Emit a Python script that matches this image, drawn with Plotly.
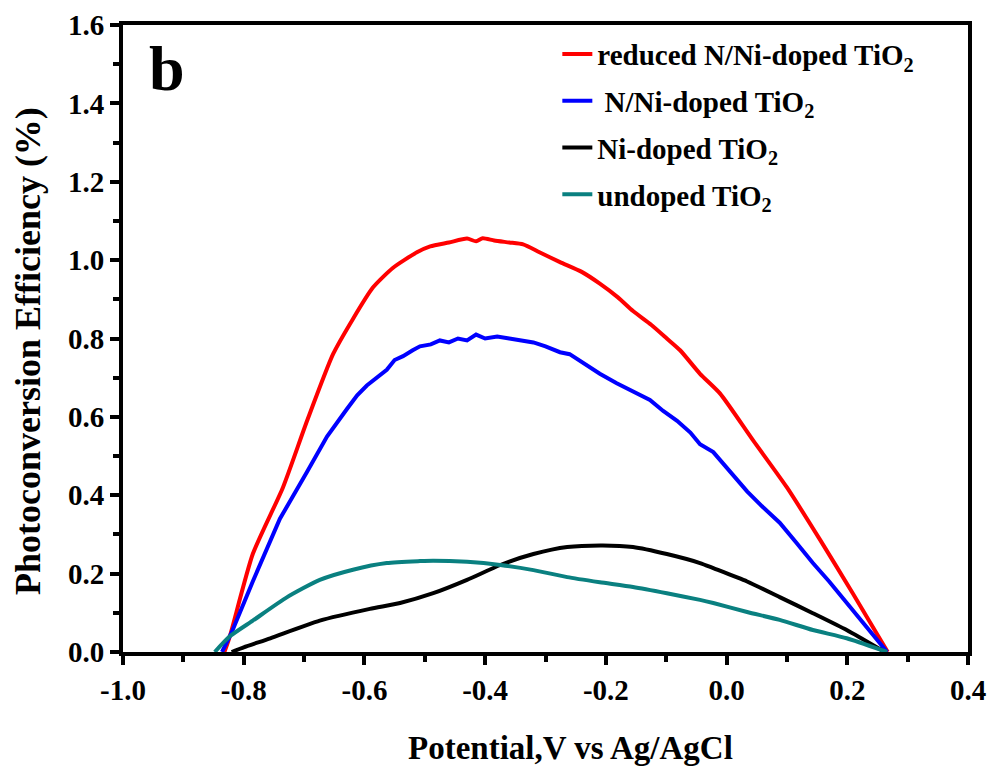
import plotly.graph_objects as go

# Data
red_x = [-0.832, -0.823, -0.785, -0.735, -0.695, -0.652, -0.619, -0.586, -0.553, -0.513, -0.491,
         -0.46, -0.43, -0.415, -0.404, -0.385, -0.36, -0.337, -0.31, -0.276, -0.24, -0.21, -0.18,
         -0.155, -0.125, -0.099, -0.077, -0.044, -0.011, 0.044, 0.10, 0.155, 0.209, 0.267]
red_y = [0.0, 0.04, 0.25, 0.42, 0.59, 0.76, 0.85, 0.93, 0.98, 1.02, 1.035,
         1.045, 1.055, 1.048, 1.056, 1.05, 1.045, 1.04, 1.02, 0.995, 0.97, 0.94, 0.905,
         0.87, 0.835, 0.80, 0.77, 0.71, 0.66, 0.54, 0.42, 0.286, 0.15, 0.0]

blue_x = [-0.836, -0.82, -0.785, -0.74, -0.695, -0.662, -0.629, -0.612, -0.596, -0.58, -0.563,
          -0.55, -0.536, -0.52, -0.508, -0.49, -0.475, -0.46, -0.445, -0.43, -0.415, -0.40,
          -0.38, -0.36, -0.32, -0.30, -0.276, -0.26, -0.238, -0.21, -0.182, -0.155, -0.127,
          -0.105, -0.082, -0.06, -0.044, -0.022, 0.0, 0.034, 0.06, 0.088, 0.115, 0.143, 0.17,
          0.199, 0.23, 0.266]
blue_y = [0.0, 0.05, 0.18, 0.34, 0.46, 0.55, 0.62, 0.655, 0.68, 0.70, 0.72,
          0.745, 0.755, 0.77, 0.78, 0.785, 0.795, 0.79, 0.80, 0.795, 0.81, 0.80,
          0.805, 0.80, 0.79, 0.78, 0.765, 0.76, 0.737, 0.71, 0.686, 0.665, 0.643,
          0.615, 0.59, 0.56, 0.53, 0.51, 0.47, 0.41, 0.37, 0.33, 0.28, 0.227, 0.18,
          0.125, 0.07, 0.0]

black_x = [-0.82, -0.80, -0.756, -0.674, -0.591, -0.541, -0.486, -0.43, -0.375, -0.32, -0.264,
           -0.205, -0.155, -0.099, -0.044, -0.022, 0.034, 0.088, 0.143, 0.199, 0.262]
black_y = [0.0, 0.012, 0.035, 0.08, 0.11, 0.125, 0.15, 0.184, 0.222, 0.25, 0.268,
           0.272, 0.268, 0.25, 0.227, 0.214, 0.18, 0.14, 0.099, 0.056, 0.0]

teal_x = [-0.848, -0.823, -0.785, -0.728, -0.674, -0.619, -0.563, -0.508, -0.486, -0.43, -0.375,
          -0.32, -0.264, -0.21, -0.155, -0.099, -0.044, -0.022, 0.034, 0.088, 0.143, 0.199, 0.266]
teal_y = [0.0, 0.04, 0.08, 0.14, 0.184, 0.21, 0.227, 0.232, 0.233, 0.23, 0.222,
          0.209, 0.191, 0.178, 0.166, 0.15, 0.133, 0.125, 0.102, 0.082, 0.056, 0.035, 0.0]

x_tickvals = [-1.0, -0.8, -0.6, -0.4, -0.2, 0.0, 0.2, 0.4]
x_ticktext = ["-1.0", "-0.8", "-0.6", "-0.4", "-0.2", "0.0", "0.2", "0.4"]
y_tickvals = [0.0, 0.2, 0.4, 0.6, 0.8, 1.0, 1.2, 1.4, 1.6]
y_ticktext = ["0.0", "0.2", "0.4", "0.6", "0.8", "1.0", "1.2", "1.4", "1.6"]

x_title = "Potential,V vs Ag/AgCl"
y_title = "Photoconversion Efficiency (%)"
panel_label = "b"

names = ["reduced N/Ni-doped TiO<sub>2</sub>", " N/Ni-doped TiO<sub>2</sub>",
         "Ni-doped TiO<sub>2</sub>", "undoped TiO<sub>2</sub>"]
colors = ["#FF0000", "#0000FF", "#000000", "#0A8080"]
shapes = ["spline", "linear", "spline", "spline"]
series = [(red_x, red_y), (blue_x, blue_y), (black_x, black_y), (teal_x, teal_y)]

FONT = "Liberation Serif"

fig = go.Figure()
for (xs, ys), nm, c, sh in zip(series, names, colors, shapes):
    fig.add_trace(go.Scatter(x=xs, y=ys, mode="lines", name=nm, legendgroup=nm,
                             line=dict(color=c, width=4, shape=sh, smoothing=0.6)))

axis_common = dict(
    showline=True, linewidth=4, linecolor="black", mirror=True,
    ticks="outside", ticklen=9, tickwidth=4, tickcolor="black",
    showgrid=False, zeroline=False, automargin=False,
    tickfont=dict(family=FONT, size=29, color="black", weight="bold"),
    minor=dict(ticks="outside", ticklen=6, tickwidth=4, tickcolor="black", showgrid=False),
)

fig.update_xaxes(range=[-1.0, 0.4], tickmode="array", tickvals=x_tickvals, ticktext=x_ticktext,
                 minor_dtick=0.1, minor_tick0=-1.0, **axis_common)
fig.update_yaxes(range=[0.0, 1.6], tickmode="array", tickvals=y_tickvals, ticktext=y_ticktext,
                 minor_dtick=0.1, minor_tick0=0.0, **axis_common)

fig.add_annotation(text=x_title, xref="paper", yref="paper", x=0.529, y=-0.153,
                   xanchor="center", yanchor="middle", showarrow=False,
                   font=dict(family=FONT, size=33, color="black", weight="bold"))
fig.add_annotation(text=y_title, xref="paper", yref="paper", x=-0.1124, y=0.48,
                   xanchor="center", yanchor="middle", showarrow=False, textangle=-90,
                   font=dict(family=FONT, size=36, color="black", weight="bold"))
fig.add_annotation(text=panel_label, xref="paper", yref="paper", x=0.028, y=0.99,
                   xanchor="left", yanchor="top", showarrow=False,
                   font=dict(family=FONT, size=64, color="black", weight="bold"))

fig.update_layout(
    width=992, height=773,
    margin=dict(l=123, r=24, t=25, b=121),
    plot_bgcolor="white", paper_bgcolor="white",
    font=dict(family=FONT, color="black"),
    legend=dict(x=0.514, y=0.994, xanchor="left", yanchor="top",
                bgcolor="rgba(0,0,0,0)", tracegroupgap=6,
                font=dict(family=FONT, size=29, color="black", weight="bold")),
)

fig.write_html("out.html")
